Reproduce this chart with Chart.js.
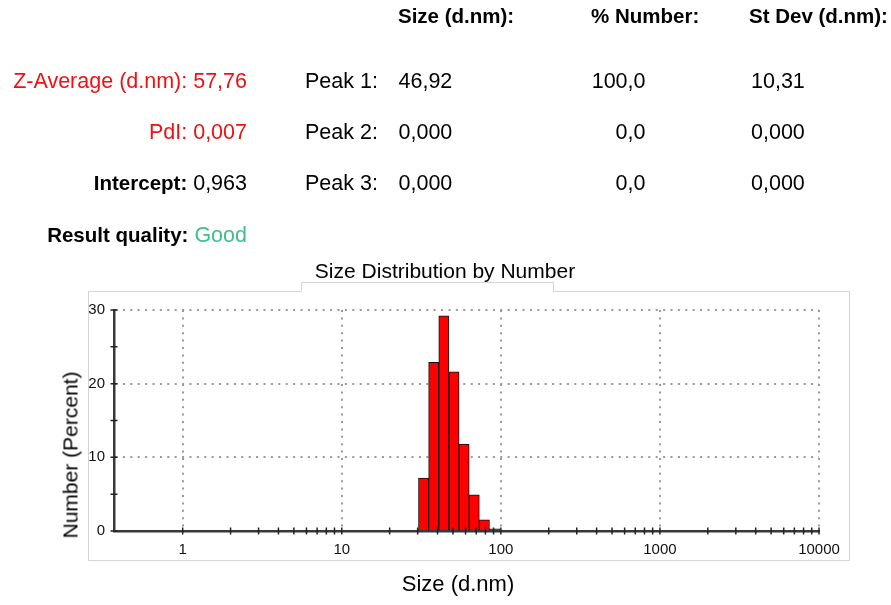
<!DOCTYPE html>
<html>
<head>
<meta charset="utf-8">
<title>Size Distribution by Number</title>
<script src="https://cdn.jsdelivr.net/npm/chart.js@4/dist/chart.umd.min.js"></script>
<style>
  html, body { margin: 0; padding: 0; background: #fff; }
  body {
    width: 891px; height: 605px; position: relative; overflow: hidden;
    font-family: 'Liberation Sans', Arial, sans-serif; font-size: 21.5px; color: #000;
  }
  #sizeChart { position: absolute; left: 0; top: 0; }
  .t { position: absolute; line-height: 1; white-space: nowrap; }
  .b { font-weight: bold; }
  .t .b { font-size: 20.5px; }
  .red { color: #ee1111; }
  .good { color: #3fbf8e; }
</style>
</head>
<body>
<canvas id="sizeChart" width="891" height="605"></canvas>
<div id="results"></div>

<script>
// size classes (d.nm, bin centres) and number distribution (%)
var sizeClasses = [32.67, 37.84, 43.82, 50.75, 58.77, 68.06, 78.82, 91.28];
var numberPercent = [7.2, 22.9, 29.2, 21.6, 11.8, 4.9, 1.5, 0.3];

var xLabels = [1, 10, 100, 1000, 10000];
var yLabels = [0, 10, 20, 30];
var yMinorTicks = [5, 15, 25];

// results table
var peakNames = ['Peak 1:', 'Peak 2:', 'Peak 3:'];
var peakSizes = ['46,92', '0,000', '0,000'];
var peakNumbers = ['100,0', '0,0', '0,0'];
var peakStDevs = ['10,31', '0,000', '0,000'];
var zAverage = '57,76';
var pdi = '0,007';
var intercept = '0,963';
var quality = 'Good';

var FONT = "'Liberation Sans', Arial, sans-serif";

function addText(html, cls, left, baseline, align, size) {
    var el = document.createElement('div');
    el.className = 't ' + (cls || '');
    el.innerHTML = html;
    var fs = size || 21.5;
    el.style.fontSize = fs + 'px';
    el.style.top = (baseline - 0.8465 * fs) + 'px';
    if (align === 'right') {
        el.style.right = (891 - left) + 'px';
    } else if (align === 'center') {
        el.style.left = left + 'px';
        el.style.transform = 'translateX(-50%)';
    } else {
        el.style.left = left + 'px';
    }
    document.getElementById('results').appendChild(el);
    return el;
}

function buildHeader() {
    var rows = [89.5, 140, 191, 243];
    addText('Size (d.nm):', 'b', 398, 23, 'left', 20.5);
    addText('% Number:', 'b', 591, 23, 'left', 20.5);
    addText('St Dev (d.nm):', 'b', 749, 23, 'left', 20.5);

    addText('Z-Average (d.nm): ' + zAverage, 'red', 247, rows[0], 'right');
    addText('PdI: ' + pdi, 'red', 247, rows[1], 'right');
    addText('<span class="b">Intercept:</span> ' + intercept, '', 247, rows[2], 'right');
    addText('<span class="b">Result quality:</span> <span class="good">' + quality + '</span>', '', 247, rows[3], 'right');

    peakNames.forEach(function(name, i) {
        addText(name, '', 305, rows[i]);
        addText(peakSizes[i], '', 398.5, rows[i]);
        addText(peakNumbers[i], '', 645.5, rows[i], 'right');
        addText(peakStDevs[i], '', 751, rows[i]);
    });

    addText('Size Distribution by Number', '', 445, 278, 'center', 21);
    addText('Size (d.nm)', '', 458, 592, 'center', 22);

    var yTitle = addText('Number (Percent)', '', 0, 0, 'left', 21);
    yTitle.style.left = '69.5px';
    yTitle.style.top = '455px';
    yTitle.style.transform = 'translate(-50%, -50%) rotate(-90deg)';
}

// light frame with a tab behind the title, plus tick marks crossing the axes
var frameAndTicks = {
    id: 'frameAndTicks',
    beforeDraw: function(chart) {
        var ctx = chart.ctx;
        ctx.save();
        ctx.strokeStyle = '#d4d4d4';
        ctx.lineWidth = 1;
        ctx.beginPath();
        ctx.moveTo(88.5, 291.5);
        ctx.lineTo(301.5, 291.5);
        ctx.lineTo(301.5, 282.5);
        ctx.lineTo(553.5, 282.5);
        ctx.lineTo(553.5, 291.5);
        ctx.lineTo(849.5, 291.5);
        ctx.lineTo(849.5, 560.5);
        ctx.lineTo(88.5, 560.5);
        ctx.closePath();
        ctx.stroke();
        ctx.restore();
    },
    afterDraw: function(chart) {
        var ctx = chart.ctx;
        var x = chart.scales.x, y = chart.scales.y;
        var y0 = y.getPixelForValue(0);
        var x0 = x.left;
        ctx.save();
        ctx.strokeStyle = '#222';
        ctx.lineWidth = 1.5;
        ctx.beginPath();
        for (var d = 1; d < 10000; d *= 10) {
            for (var m = 1; m < 10; m++) {
                var px = x.getPixelForValue(m * d);
                ctx.moveTo(px, y0 - 3.5);
                ctx.lineTo(px, y0 + 3.5);
            }
        }
        var pEnd = x.getPixelForValue(10000);
        ctx.moveTo(pEnd, y0 - 3.5);
        ctx.lineTo(pEnd, y0 + 3.5);
        yLabels.concat(yMinorTicks).forEach(function(v) {
            var py = y.getPixelForValue(v);
            ctx.moveTo(x0 - 3.5, py);
            ctx.lineTo(x0 + 3.5, py);
        });
        ctx.stroke();
        ctx.restore();
    }
};

window.onload = function() {
    buildHeader();

    Chart.defaults.font.family = FONT;

    var canvas = document.getElementById('sizeChart').getContext('2d');
    new Chart(canvas, {
        type: 'bar',
        data: {
            datasets: [{
                label: 'Number (Percent)',
                data: sizeClasses.map(function(s, i) { return {x: s, y: numberPercent[i]}; }),
                backgroundColor: '#ff0000',
                borderColor: '#111',
                borderWidth: 1,
                barPercentage: 1,
                categoryPercentage: 1
            }]
        },
        options: {
            responsive: false,
            animation: false,
            events: [],
            layout: {padding: {left: 0, top: 310, right: 72, bottom: 0}},
            plugins: {
                legend: {display: false},
                tooltip: {enabled: false}
            },
            scales: {
                x: {
                    type: 'logarithmic',
                    min: 0.37,
                    max: 10000,
                    offset: false,
                    afterBuildTicks: function(scale) {
                        scale.ticks = xLabels.map(function(v) { return {value: v, major: true}; });
                    },
                    afterFit: function(scale) { scale.height = 74; },
                    grid: {color: '#9a9a9a', lineWidth: 2, drawTicks: false, offset: false},
                    border: {display: true, color: '#383838', width: 2.5, dash: [2, 5.4]},
                    ticks: {
                        autoSkip: false,
                        maxRotation: 0,
                        padding: 10,
                        color: '#111',
                        font: {size: 15},
                        callback: function(v) { return String(v); }
                    }
                },
                y: {
                    min: 0,
                    max: 30,
                    afterBuildTicks: function(scale) {
                        scale.ticks = yLabels.map(function(v) { return {value: v}; });
                    },
                    afterFit: function(scale) { scale.width = 114; },
                    grid: {color: '#9a9a9a', lineWidth: 2, drawTicks: false},
                    border: {display: true, color: '#383838', width: 2.5, dash: [2, 5.4]},
                    ticks: {
                        padding: 9,
                        color: '#111',
                        font: {size: 15}
                    }
                }
            }
        },
        plugins: [frameAndTicks]
    });
};
</script>
</body>
</html>
